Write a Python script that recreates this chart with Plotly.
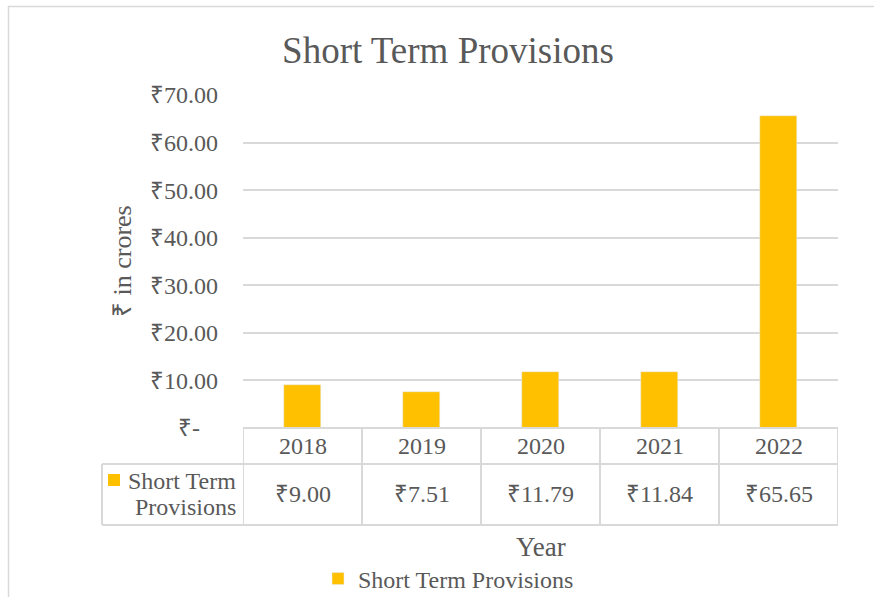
import plotly.graph_objects as go

years = ["2018", "2019", "2020", "2021", "2022"]
values = [9.00, 7.51, 11.79, 11.84, 65.65]
value_labels = ["₹9.00", "₹7.51", "₹11.79", "₹11.84", "₹65.65"]
tick_vals = [0, 10, 20, 30, 40, 50, 60, 70]
tick_text = ["₹-\u00a0\u00a0\u00a0", "₹10.00", "₹20.00", "₹30.00", "₹40.00", "₹50.00", "₹60.00", "₹70.00"]
series_name = "Short Term Provisions"

W, H = 874, 597
L, R, T, B = 243, 36, 95, 169
pw, ph = W - L - R, H - T - B

def px_x(x):
    return (x - L) / pw

def px_y(y):
    return (H - B - y) / ph

FONT = "Liberation Serif, Times New Roman, serif"
TXT = "#595959"
GRID = "#d9d9d9"
BAR = "#FFC000"
FS = 24

xs = list(range(len(years)))
fig = go.Figure()
fig.add_trace(go.Bar(x=xs, y=values, name=series_name, marker_color=BAR,
                     width=0.31, showlegend=True))

shapes = []
line = dict(color=GRID, width=2)
y_top = 0
y_mid = px_y(464)
y_bot = px_y(525)
x_left = px_x(102)
shapes.append(dict(type="line", xref="x", yref="paper", x0=-0.5, x1=len(years) - 0.5, y0=y_top, y1=y_top, line=line))
for yy in (y_mid, y_bot):
    shapes.append(dict(type="line", xref="paper", yref="paper", x0=x_left, x1=1, y0=yy, y1=yy, line=line))
for i in range(len(years) + 1):
    shapes.append(dict(type="line", xref="x", yref="paper", x0=i - 0.5, x1=i - 0.5, y0=y_top, y1=y_bot, line=line))
shapes.append(dict(type="line", xref="paper", yref="paper", x0=x_left, x1=x_left, y0=y_mid, y1=y_bot, line=line))
shapes.append(dict(type="line", xref="paper", yref="paper", x0=px_x(8), x1=px_x(880), y0=px_y(6.5), y1=px_y(6.5), line=dict(color=GRID, width=1.5)))
shapes.append(dict(type="line", xref="paper", yref="paper", x0=px_x(8.5), x1=px_x(8.5), y0=px_y(6), y1=px_y(600), line=dict(color=GRID, width=1.5)))
shapes.append(dict(type="rect", xref="paper", yref="paper", x0=px_x(108), x1=px_x(120), y0=px_y(474), y1=px_y(486), fillcolor=BAR, line=dict(width=0)))

annotations = []
for i, (yr, vl) in enumerate(zip(years, value_labels)):
    annotations.append(dict(x=i, y=px_y(446), xref="x", yref="paper", text=yr, showarrow=False,
                            font=dict(family=FONT, size=FS, color=TXT), xanchor="center", yanchor="middle"))
    annotations.append(dict(x=i, y=px_y(494), xref="x", yref="paper", text=vl, showarrow=False,
                            font=dict(family=FONT, size=FS, color=TXT), xanchor="center", yanchor="middle"))
annotations.append(dict(x=px_x(238), y=px_y(481), xref="paper", yref="paper", text="Short Term",
                        showarrow=False, xanchor="right", yanchor="middle",
                        font=dict(family=FONT, size=FS, color=TXT)))
annotations.append(dict(x=px_x(238), y=px_y(507), xref="paper", yref="paper", text="Provisions",
                        showarrow=False, xanchor="right", yanchor="middle",
                        font=dict(family=FONT, size=FS, color=TXT)))
annotations.append(dict(x=px_x(541), y=px_y(547), xref="paper", yref="paper", text="Year", showarrow=False,
                        xanchor="center", yanchor="middle", font=dict(family=FONT, size=27, color=TXT)))
annotations.append(dict(x=px_x(122), y=px_y(261), xref="paper", yref="paper", text="₹ in crores", showarrow=False,
                        textangle=-90, xanchor="center", yanchor="middle", font=dict(family=FONT, size=26, color=TXT)))

fig.update_layout(
    width=W, height=H,
    margin=dict(l=L, r=R, t=T, b=B, autoexpand=False),
    paper_bgcolor="white", plot_bgcolor="white",
    title=dict(text="Short Term Provisions", x=448 / W, xanchor="center", y=1 - 50 / H, yanchor="middle",
               yref="container", xref="container", font=dict(family=FONT, size=37, color=TXT)),
    xaxis=dict(range=[-0.5, len(years) - 0.5], showticklabels=False, showgrid=False, zeroline=False,
               showline=False, fixedrange=True),
    yaxis=dict(range=[0, 70], tickvals=tick_vals, ticktext=tick_text, showgrid=True, gridcolor=GRID,
               gridwidth=1.5, zeroline=False, showline=False, ticks="", ticklabelstandoff=24,
               tickfont=dict(family=FONT, size=FS, color=TXT)),
    showlegend=True,
    legend=dict(orientation="h", x=px_x(318), xanchor="left", y=px_y(579), yanchor="middle",
                font=dict(family=FONT, size=FS, color=TXT), bgcolor="rgba(0,0,0,0)"),
    shapes=shapes, annotations=annotations, bargap=0,
)
fig.write_html("out.html", config={"displayModeBar": False},
               post_script="document.body.style.margin='0';document.body.style.overflow='hidden';")
